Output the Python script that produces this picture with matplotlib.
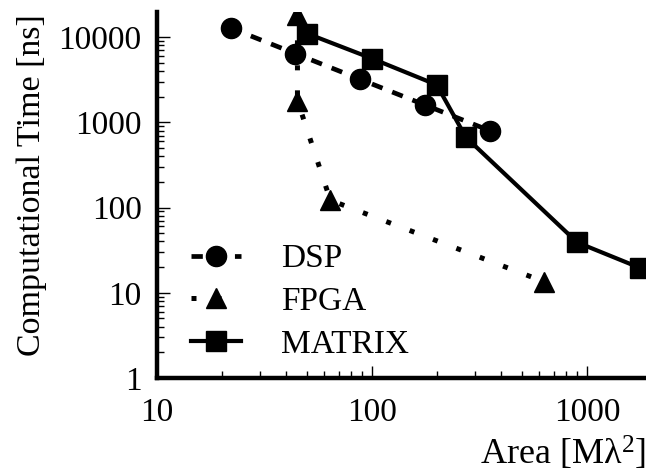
import numpy as np
import matplotlib
matplotlib.use("Agg")
import matplotlib.pyplot as plt

plt.rcParams.update({
    "font.family": "serif",
    "font.serif": ["Liberation Serif", "DejaVu Serif"],
    "mathtext.fontset": "custom",
    "mathtext.rm": "Liberation Serif",
    "mathtext.it": "Liberation Serif:italic",
})

# data
dsp_area = [22, 44, 88, 176, 352]
dsp_time = [12800, 6400, 3200, 1600, 800]

fpga_area = [45, 45, 64, 630]
fpga_time = [18000, 1800, 122, 13.5]

matrix_area = [50, 100, 200, 273, 900, 1770]
matrix_time = [11000, 5600, 2750, 670, 39, 19.5]

FS = 24

fig = plt.figure(figsize=(6.46, 4.74), dpi=100)
ax = fig.add_axes([157 / 646, 96 / 474, 1 - 157 / 646, (378 - 12) / 474])

ax.plot(dsp_area, dsp_time, color="black", lw=3.4, ls=(0, (2.4, 2.2)),
        marker="o", ms=14.5, label="DSP")
ax.plot(fpga_area, fpga_time, color="black", lw=3.6, ls=(0, (1, 4)),
        marker="^", ms=14.5, label="FPGA")
ax.plot(matrix_area, matrix_time, color="black", lw=3.0, ls="-",
        marker="s", ms=14.5, label="MATRIX")

ax.set_xscale("log")
ax.set_yscale("log")
ax.set_xlim(10, 1880)
ax.set_ylim(1, 19700)
ax.set_xticks([10, 100, 1000])
ax.set_xticklabels(["10", "100", "1000"])
ax.set_yticks([1, 10, 100, 1000, 10000])
ax.set_yticklabels(["1", "10", "100", "1000", "10000"])

for s in ["top", "right"]:
    ax.spines[s].set_visible(False)
for s in ["left", "bottom"]:
    ax.spines[s].set_linewidth(3.2)

ax.tick_params(which="major", direction="in", length=9, width=1.0,
               labelsize=FS, pad=11)
ax.tick_params(axis="x", which="major", pad=14)
ax.tick_params(which="minor", direction="in", length=5, width=1.0)

ax.set_ylabel("Computational Time [ns]", fontsize=24.5)
ax.yaxis.set_label_coords(-0.225, 0.527)
ax.set_xlabel("Area [M\u03bb$^2$]", fontsize=26, loc="right", labelpad=5)

ax.legend(loc="lower left", bbox_to_anchor=(0.043, 0.013), frameon=False,
          fontsize=FS, handlelength=1.5, handletextpad=1.2, labelspacing=0.37,
          borderaxespad=0)

fig.savefig("out.png", dpi=100)
